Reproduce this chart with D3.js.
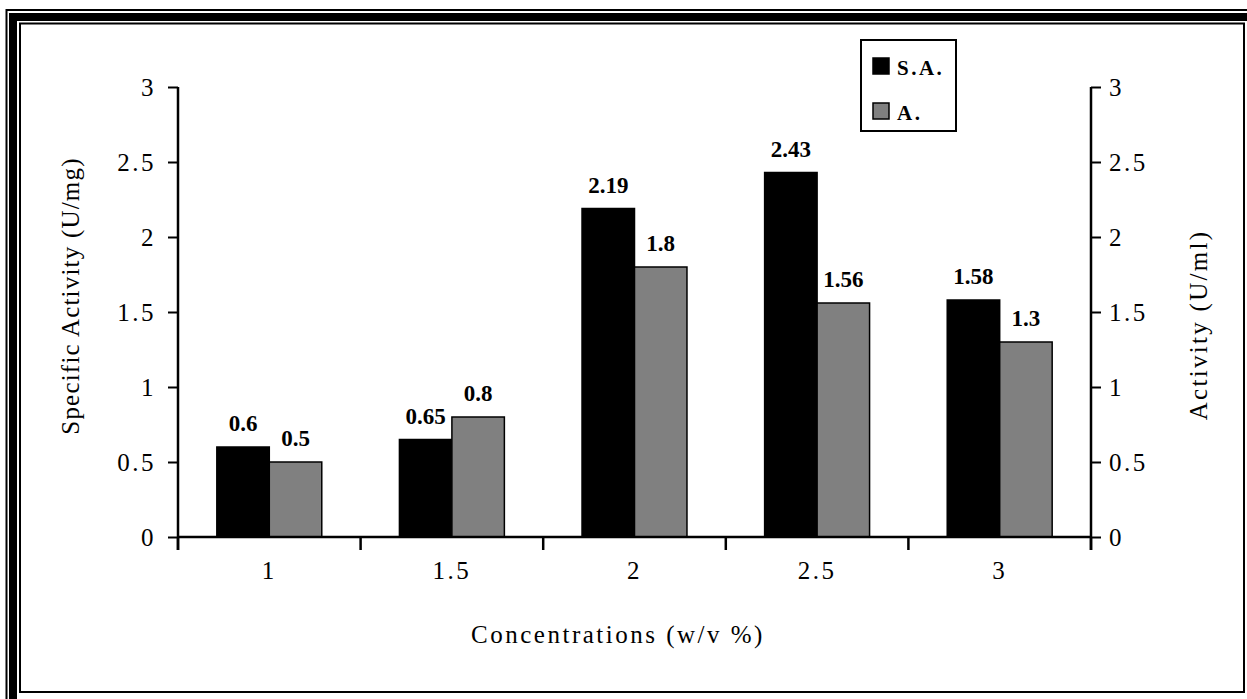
<!DOCTYPE html>
<html>
<head>
<meta charset="utf-8">
<script src="https://cdnjs.cloudflare.com/ajax/libs/d3/7.8.5/d3.min.js"></script>
<style>
  html, body { margin: 0; padding: 0; background: #ffffff; }
  svg { display: block; }
  text { font-family: "Liberation Serif", "Times New Roman", serif; fill: #000; }
</style>
</head>
<body>
<svg id="chart" width="1247" height="699"></svg>
<script>
// Concentration levels (w/v %) along the x axis
const categories = ["1", "1.5", "2", "2.5", "3"];
// Specific activity (U/mg), left axis
const specificActivity = [0.6, 0.65, 2.19, 2.43, 1.58];
// Activity (U/ml), right axis
const activity = [0.5, 0.8, 1.8, 1.56, 1.3];
const seriesNames = ["S.A.", "A."];
const seriesColors = ["#000000", "#808080"];
const yTicks = [0, 0.5, 1, 1.5, 2, 2.5, 3];

const svg = d3.select("#chart");
const W = 1247, H = 699;
const SERIF = "'Liberation Serif', 'Times New Roman', serif";

// Page border: thin outer line, thick band, thin inner line
svg.append("rect").attr("x", 0).attr("y", 0).attr("width", W).attr("height", H).attr("fill", "#fff");
svg.append("rect").attr("x", 6.5).attr("y", 10).attr("width", W + 20).attr("height", H + 20)
  .attr("fill", "none").attr("stroke", "#000").attr("stroke-width", 2);
svg.append("rect").attr("x", 13).attr("y", 17).attr("width", W + 20).attr("height", H + 20)
  .attr("fill", "none").attr("stroke", "#000").attr("stroke-width", 8);
svg.append("rect").attr("x", 20).attr("y", 23.5).attr("width", 1224).attr("height", 668.5)
  .attr("fill", "#fff").attr("stroke", "#000").attr("stroke-width", 2);

const plot = { left: 178, right: 1091, top: 87, bottom: 537 };

const x = d3.scaleBand().domain(categories).range([plot.left, plot.right]).padding(0);
const xs = d3.scaleBand().domain(seriesNames).range([0, x.bandwidth()])
  .paddingInner(0).paddingOuter(0.74);
const yL = d3.scaleLinear().domain([0, 3]).range([plot.bottom, plot.top]);
const yR = d3.scaleLinear().domain([0, 3]).range([plot.bottom, plot.top]);

const rows = categories.map((c, i) => ({ cat: c, values: [specificActivity[i], activity[i]] }));

// Bars
const groups = svg.append("g").selectAll("g").data(rows).join("g")
  .attr("transform", d => `translate(${x(d.cat)},0)`);
groups.selectAll("rect").data(d => d.values.map((v, k) => ({ v, k })))
  .join("rect")
  .attr("x", d => xs(seriesNames[d.k]))
  .attr("width", xs.bandwidth())
  .attr("y", d => (d.k === 0 ? yL : yR)(d.v))
  .attr("height", d => plot.bottom - (d.k === 0 ? yL : yR)(d.v))
  .attr("fill", d => seriesColors[d.k])
  .attr("stroke", "#000").attr("stroke-width", 1.5);

// Value labels
groups.selectAll("text.val").data(d => d.values.map((v, k) => ({ v, k })))
  .join("text").attr("class", "val")
  .attr("x", d => xs(seriesNames[d.k]) + xs.bandwidth() / 2)
  .attr("y", d => (d.k === 0 ? yL : yR)(d.v) - 16)
  .attr("text-anchor", "middle")
  .attr("font-size", 23).attr("font-weight", "bold")
  .style("font-family", SERIF)
  .text(d => d.v);

// Left axis
const axL = svg.append("g").attr("transform", `translate(${plot.left},0)`)
  .call(d3.axisLeft(yL).tickValues(yTicks).tickSize(10).tickPadding(12).tickFormat(d3.format("")));
// Right axis
const axR = svg.append("g").attr("transform", `translate(${plot.right},0)`)
  .call(d3.axisRight(yR).tickValues(yTicks).tickSize(10).tickPadding(8).tickFormat(d3.format("")));
[axL, axR].forEach(a => {
  a.attr("font-family", null);
  a.select(".domain").remove();
  a.selectAll("line").attr("stroke", "#000").attr("stroke-width", 2);
  a.selectAll("text").attr("font-size", 25).attr("letter-spacing", 2.5)
    .style("font-family", SERIF).attr("fill", "#000");
});
// vertical axis lines (extend down to the x tick length)
[plot.left, plot.right].forEach(px => {
  svg.append("line").attr("x1", px).attr("x2", px)
    .attr("y1", plot.top).attr("y2", plot.bottom + 13)
    .attr("stroke", "#000").attr("stroke-width", 2.5);
});

// Bottom axis: labels at category centers, ticks at category boundaries
const axB = svg.append("g").attr("transform", `translate(0,${plot.bottom})`)
  .call(d3.axisBottom(x).tickSize(0).tickPadding(24));
axB.attr("font-family", null);
axB.select(".domain").remove();
axB.selectAll("text").attr("font-size", 25).attr("letter-spacing", 2.5)
  .style("font-family", SERIF).attr("fill", "#000");
svg.append("line").attr("x1", plot.left).attr("x2", plot.right)
  .attr("y1", plot.bottom).attr("y2", plot.bottom)
  .attr("stroke", "#000").attr("stroke-width", 2.5);
const bounds = categories.map(c => x(c)).concat([x(categories[categories.length - 1]) + x.bandwidth()]);
svg.append("g").selectAll("line").data(bounds).join("line")
  .attr("x1", d => d).attr("x2", d => d)
  .attr("y1", plot.bottom).attr("y2", plot.bottom + 13)
  .attr("stroke", "#000").attr("stroke-width", 2.5);

// Axis titles
svg.append("text").attr("transform", "translate(79,296) rotate(-90)")
  .attr("text-anchor", "middle").attr("font-size", 25).attr("letter-spacing", 1.2)
  .style("font-family", SERIF)
  .text("Specific Activity (U/mg)");
svg.append("text").attr("transform", "translate(1207,325) rotate(-90)")
  .attr("text-anchor", "middle").attr("font-size", 25).attr("letter-spacing", 2.3)
  .style("font-family", SERIF)
  .text("Activity (U/ml)");
svg.append("text").attr("x", 618).attr("y", 643)
  .attr("text-anchor", "middle").attr("font-size", 25).attr("letter-spacing", 2.5)
  .style("font-family", SERIF)
  .text("Concentrations (w/v %)");

// Legend
const lg = svg.append("g");
lg.append("rect").attr("x", 861).attr("y", 40).attr("width", 95).attr("height", 91)
  .attr("fill", "#fff").attr("stroke", "#000").attr("stroke-width", 2);
seriesNames.forEach((s, k) => {
  lg.append("rect").attr("x", 873).attr("y", 58 + k * 45).attr("width", 16).attr("height", 16)
    .attr("fill", seriesColors[k]).attr("stroke", "#000").attr("stroke-width", 1.5);
  lg.append("text").attr("x", 897).attr("y", 75 + k * 45)
    .attr("font-size", 21).attr("font-weight", "bold").attr("letter-spacing", 2.5)
    .style("font-family", SERIF)
    .text(s);
});
</script>
</body>
</html>
